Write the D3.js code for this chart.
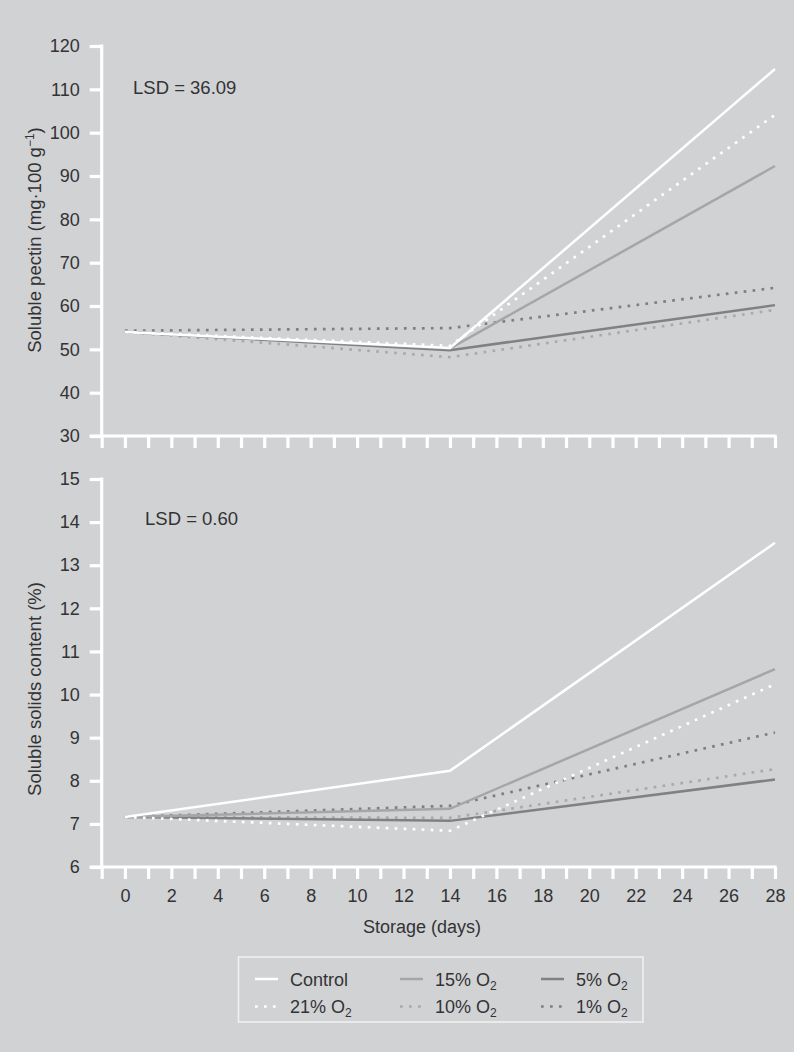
<!DOCTYPE html>
<html>
<head>
<meta charset="utf-8">
<script src="https://cdn.jsdelivr.net/npm/d3@7"></script>
<style>
  body { margin: 0; background: #d1d2d4; }
  text { font-family: "Liberation Sans", Arial, sans-serif; fill: #333335; }
</style>
</head>
<body>
<svg id="chart" width="794" height="1052"></svg>
<script>
const width = 794, height = 1052;

// storage days and tick values
const days = [0, 14, 28];
const dayTicks = d3.range(-1, 29);

// series
const seriesNames = ["Control", "21% O2", "15% O2", "10% O2", "5% O2", "1% O2"];

// soluble pectin (mg.100 g-1)
const pectinControl = [54.0, 50.3, 114.7];
const pectin21 = [54.0, 50.8, 104.1];
const pectin15 = [54.0, 50.2, 92.3];
const pectin10 = [54.0, 48.2, 59.1];
const pectin5 = [54.0, 49.8, 60.2];
const pectin1 = [54.3, 54.9, 64.2];

// soluble solids content (%)
const sscControl = [7.16, 8.23, 13.52];
const ssc21 = [7.16, 6.84, 10.24];
const ssc15 = [7.16, 7.35, 10.59];
const ssc10 = [7.16, 7.14, 8.27];
const ssc5 = [7.16, 7.07, 8.03];
const ssc1 = [7.16, 7.42, 9.12];

const pectinTicks = d3.range(30, 121, 10);
const sscTicks = d3.range(6, 16, 1);

//line style per series
const styles = {
  "Control": { color: "#ffffff", dash: null },
  "21% O2": { color: "#ffffff", dash: "2.7,6.3" },
  "15% O2": { color: "#a5a6a8", dash: null },
  "10% O2": { color: "#a9aaac", dash: "2.7,6.3" },
  "5% O2": { color: "#808183", dash: null },
  "1% O2": { color: "#7e7f81", dash: "2.7,6.3" }
};

const svg = d3.select("#chart");
svg.append("rect").attr("width", width).attr("height", height).attr("fill", "#d1d2d4");

const x = d3.scaleLinear().domain([-1, 28]).range([101.7, 775]);

function drawPanel(opts) {
  const y = d3.scaleLinear().domain(opts.domain).range(opts.range);
  const g = svg.append("g");

  //y axis
  const yAx = g.append("g").attr("transform", `translate(${x(-1)},0)`)
    .call(d3.axisLeft(y).tickValues(opts.yTicks).tickSize(12).tickPadding(10));
  yAx.select(".domain").remove();
  yAx.selectAll(".tick line").attr("stroke", "#fff").attr("stroke-width", 3.2);
  yAx.selectAll(".tick text").attr("font-size", 18).attr("fill", "#333335");
  g.append("line").attr("x1", x(-1)).attr("x2", x(-1))
    .attr("y1", opts.range[1] - 1.6).attr("y2", opts.range[0])
    .attr("stroke", "#fff").attr("stroke-width", 3.2);

  //x axis
  const xAx = g.append("g").attr("transform", `translate(0,${opts.range[0]})`)
    .call(d3.axisBottom(x).tickValues(dayTicks).tickSize(12).tickPadding(10.5)
      .tickFormat(d => (opts.labels && d >= 0 && d % 2 === 0) ? d : ""));
  xAx.select(".domain").remove();
  xAx.selectAll(".tick line").attr("stroke", "#fff").attr("stroke-width", 3.2);
  xAx.selectAll(".tick text").attr("font-size", 18).attr("fill", "#333335");
  g.append("line").attr("x1", x(-1) - 12).attr("x2", x(28) + 1.6)
    .attr("y1", opts.range[0]).attr("y2", opts.range[0])
    .attr("stroke", "#fff").attr("stroke-width", 3.2);

  //lines
  const line = d3.line().x((d, i) => x(days[i])).y(d => y(d));
  ["10% O2", "1% O2", "5% O2", "15% O2", "21% O2", "Control"].forEach(name => {
    g.append("path").datum(opts.series[name])
      .attr("d", line)
      .attr("fill", "none")
      .attr("stroke", styles[name].color)
      .attr("stroke-width", styles[name].dash ? 2.7 : 2.5)
      .attr("stroke-dasharray", styles[name].dash);
  });

  //LSD text
  g.append("text").attr("x", opts.lsdX).attr("y", opts.lsdY)
    .attr("font-size", 18.5).text(opts.lsd);

  //y title
  const t = g.append("text")
    .attr("transform", `translate(40.5,${opts.titleY}) rotate(-90)`)
    .attr("text-anchor", "middle").attr("font-size", 18.5);
  opts.title(t);
  return y;
}

drawPanel({
  domain: [30, 120], range: [436, 46], yTicks: pectinTicks, labels: false,
  series: { "Control": pectinControl, "21% O2": pectin21, "15% O2": pectin15,
            "10% O2": pectin10, "5% O2": pectin5, "1% O2": pectin1 },
  lsd: "LSD = 36.09", lsdX: 133, lsdY: 93.5, titleY: 240,
  title: t => {
    t.append("tspan").text("Soluble pectin (mg·100 g");
    t.append("tspan").attr("font-size", 12).attr("dy", -7).text("−1");
    t.append("tspan").attr("dy", 7).text(")");
  }
});

drawPanel({
  domain: [6, 15], range: [867, 479], yTicks: sscTicks, labels: true,
  series: { "Control": sscControl, "21% O2": ssc21, "15% O2": ssc15,
            "10% O2": ssc10, "5% O2": ssc5, "1% O2": ssc1 },
  lsd: "LSD = 0.60", lsdX: 145, lsdY: 524.5, titleY: 689,
  title: t => t.text("Soluble solids content (%)")
});

//x title
svg.append("text").attr("x", 422).attr("y", 933).attr("text-anchor", "middle")
  .attr("font-size", 18).text("Storage (days)");

//legend
svg.append("rect").attr("x", 238.5).attr("y", 957).attr("width", 404.5).attr("height", 65)
  .attr("fill", "none").attr("stroke", "#f2f2f2").attr("stroke-width", 1.5);

const legendOrder = ["Control", "15% O2", "5% O2", "21% O2", "10% O2", "1% O2"];
const colX = [255, 400, 541], rowY = [979, 1006.5];
legendOrder.forEach((name, i) => {
  const cx = colX[i % 3], cy = rowY[Math.floor(i / 3)];
  svg.append("line").attr("x1", cx).attr("x2", cx + 23).attr("y1", cy).attr("y2", cy)
    .attr("stroke", styles[name].color)
    .attr("stroke-width", styles[name].dash ? 2.7 : 2.5)
    .attr("stroke-dasharray", styles[name].dash);
  const t = svg.append("text").attr("x", cx + 35).attr("y", cy + 6.5).attr("font-size", 18);
  if (name.endsWith("O2")) {
    t.append("tspan").text(name.slice(0, -1));
    t.append("tspan").attr("font-size", 12).attr("dy", 4).text("2");
  } else {
    t.text(name);
  }
});
</script>
</body>
</html>
